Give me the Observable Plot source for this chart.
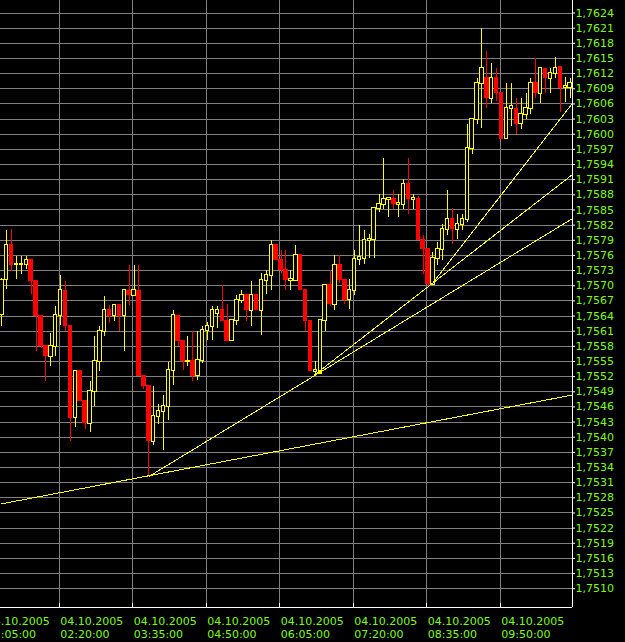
<!DOCTYPE html>
<html><head><meta charset="utf-8">
<script src="https://cdn.jsdelivr.net/npm/d3@7"></script>
<script src="https://cdn.jsdelivr.net/npm/@observablehq/plot@0.6"></script>
<style>html,body{margin:0;padding:0;background:#000;}</style>
</head><body><div id="chart"></div>
<script>
// 5-minute bars, 04.10.2005, first bar 01:20
const barStart = "2005-10-04T01:20:00Z";
const open = [
1.75643,1.75712,1.75780,1.75742,1.75742,1.75742,1.75750,1.75710,1.75641,1.75580,
1.75560,1.75580,1.75641,1.75690,1.75620,1.75439,1.75531,1.75471,1.75428,1.75491,
1.75550,1.75610,1.75651,1.75641,1.75661,1.75641,1.75690,1.75681,1.75690,1.75521,
1.75501,1.75392,1.75441,1.75451,1.75461,1.75532,1.75641,1.75591,1.75550,1.75550,
1.75522,1.75551,1.75611,1.75620,1.75645,1.75651,1.75631,1.75591,1.75631,1.75671,
1.75681,1.75651,1.75681,1.75651,1.75711,1.75721,1.75780,1.75750,1.75731,1.75711,
1.75711,1.75760,1.75691,1.75631,1.75530,1.75526,1.75631,1.75701,1.75663,1.75741,
1.75712,1.75672,1.75691,1.75751,1.75753,1.75790,1.75791,1.75852,1.75861,1.75871,
1.75871,1.75861,1.75861,1.75901,1.75871,1.75871,1.75790,1.75772,1.75703,1.75753,
1.75772,1.75812,1.75832,1.75812,1.75822,1.75832,1.75971,1.76030,1.76101,1.76111,
1.76071,1.76111,1.76081,1.75991,1.76050,1.76050,1.76021,1.76040,1.76050,1.76101,
1.76081,1.76130,1.76111,1.76121,1.76133,1.76092,1.76092];
const high = [
1.75715,1.75809,1.75811,1.75758,1.75758,1.75758,1.75750,1.75710,1.75641,1.75580,
1.75606,1.75659,1.75720,1.75709,1.75620,1.75531,1.75531,1.75471,1.75511,1.75600,
1.75620,1.75678,1.75661,1.75661,1.75661,1.75690,1.75740,1.75740,1.75740,1.75521,
1.75501,1.75500,1.75465,1.75482,1.75548,1.75651,1.75641,1.75591,1.75600,1.75610,
1.75610,1.75620,1.75628,1.75658,1.75658,1.75701,1.75662,1.75631,1.75680,1.75690,
1.75681,1.75709,1.75681,1.75724,1.75731,1.75790,1.75780,1.75769,1.75769,1.75731,
1.75780,1.75760,1.75691,1.75631,1.75550,1.75631,1.75701,1.75731,1.75759,1.75759,
1.75712,1.75713,1.75770,1.75820,1.75810,1.75802,1.75852,1.75881,1.75951,1.75875,
1.75889,1.75880,1.75910,1.75951,1.75880,1.75876,1.75800,1.75772,1.75765,1.75785,
1.75822,1.75889,1.75852,1.75842,1.75842,1.76020,1.76031,1.76110,1.76210,1.76164,
1.76140,1.76130,1.76081,1.76101,1.76100,1.76071,1.76071,1.76080,1.76111,1.76150,
1.76130,1.76130,1.76130,1.76152,1.76133,1.76113,1.76111];
const low = [
1.75620,1.75692,1.75729,1.75712,1.75722,1.75732,1.75682,1.75570,1.75575,1.75511,
1.75540,1.75560,1.75622,1.75610,1.75391,1.75420,1.75471,1.75415,1.75410,1.75461,
1.75531,1.75600,1.75625,1.75630,1.75610,1.75570,1.75660,1.75681,1.75521,1.75495,
1.75322,1.75383,1.75425,1.75373,1.75433,1.75502,1.75580,1.75532,1.75540,1.75511,
1.75512,1.75545,1.75591,1.75591,1.75615,1.75631,1.75591,1.75591,1.75622,1.75665,
1.75630,1.75620,1.75651,1.75601,1.75683,1.75691,1.75750,1.75724,1.75690,1.75691,
1.75711,1.75691,1.75610,1.75531,1.75524,1.75525,1.75610,1.75658,1.75651,1.75705,
1.75663,1.75653,1.75680,1.75740,1.75743,1.75753,1.75753,1.75845,1.75850,1.75835,
1.75850,1.75835,1.75850,1.75842,1.75850,1.75790,1.75723,1.75698,1.75700,1.75740,
1.75750,1.75800,1.75781,1.75792,1.75810,1.75825,1.75960,1.76020,1.76011,1.76051,
1.76060,1.76065,1.75991,1.75990,1.76015,1.76000,1.76010,1.76030,1.76040,1.76070,
1.76060,1.76080,1.76080,1.76110,1.76044,1.76063,1.76070];
const close = [
1.75710,1.75780,1.75742,1.75742,1.75743,1.75750,1.75710,1.75641,1.75580,1.75560,
1.75580,1.75641,1.75690,1.75620,1.75439,1.75531,1.75471,1.75428,1.75491,1.75550,
1.75610,1.75651,1.75641,1.75661,1.75641,1.75690,1.75681,1.75690,1.75521,1.75501,
1.75392,1.75441,1.75451,1.75461,1.75532,1.75641,1.75591,1.75550,1.75550,1.75522,
1.75551,1.75611,1.75620,1.75651,1.75651,1.75631,1.75591,1.75631,1.75671,1.75681,
1.75651,1.75681,1.75651,1.75711,1.75721,1.75780,1.75750,1.75731,1.75711,1.75712,
1.75760,1.75691,1.75631,1.75531,1.75532,1.75631,1.75701,1.75663,1.75741,1.75712,
1.75672,1.75691,1.75751,1.75755,1.75790,1.75791,1.75852,1.75861,1.75871,1.75872,
1.75861,1.75863,1.75901,1.75871,1.75872,1.75790,1.75772,1.75703,1.75753,1.75772,
1.75812,1.75832,1.75812,1.75822,1.75832,1.75971,1.76030,1.76101,1.76130,1.76071,
1.76111,1.76081,1.75991,1.76050,1.76055,1.76021,1.76040,1.76050,1.76101,1.76081,
1.76130,1.76111,1.76121,1.76130,1.76092,1.76094,1.76101];

// price axis ticks
const yTicks = [1.7510,1.7513,1.7516,1.7519,1.7522,1.7525,1.7528,1.7531,1.7534,1.7537,
1.7540,1.7543,1.7546,1.7549,1.7552,1.7555,1.7558,1.7561,1.7564,1.7567,1.7570,1.7573,
1.7576,1.7579,1.7582,1.7585,1.7588,1.7591,1.7594,1.7597,1.7600,1.7603,1.7606,1.7609,
1.7612,1.7615,1.7618,1.7621,1.7624];
// time axis ticks
const dateLabel = "04.10.2005";
const timeLabels = ["01:05:00","02:20:00","03:35:00","04:50:00","06:05:00","07:20:00","08:35:00","09:50:00"];

// trend lines (start time/price -> end time/price)
const trendStartTime = ["2005-10-04T01:20:06Z","2005-10-04T03:51:24Z","2005-10-04T06:39:48Z","2005-10-04T08:40:36Z"];
const trendStartPrice = [1.752677, 1.753220, 1.755222, 1.757038];
const trendEndTime = ["2005-10-04T11:03:47Z","2005-10-04T11:03:47Z","2005-10-04T11:03:47Z","2005-10-04T11:03:47Z"];
const trendEndPrice = [1.754836, 1.758330, 1.759202, 1.760614];

const xDomain = [new Date("2005-10-04T01:20:06Z"), new Date("2005-10-04T11:03:47Z")];
const yDomain = [1.750628, 1.762648];

const GREEN = "#7cfc00", YELLOW = "#ffff00", RED = "#ff0000", GRID = "#808080";
const FONT = "DejaVu Sans";

const t0 = +new Date(barStart);
const bars = open.map((o, i) => ({
  t: new Date(t0 + i * 300000), open: o, high: high[i], low: low[i], close: close[i],
  bull: close[i] >= o
}));
const bull = bars.filter(d => d.bull), bear = bars.filter(d => !d.bull);
const trends = trendStartTime.map((s, i) => ({
  t1: new Date(s), p1: trendStartPrice[i], t2: new Date(trendEndTime[i]), p2: trendEndPrice[i]
}));
const tickDates = timeLabels.map(s => new Date(`2005-10-04T${s}Z`));
const gridDates = tickDates.filter(d => d >= xDomain[0] && d <= xDomain[1]);
const fmt = d => d3.format(".4f")(d).replace(".", ",");
const halfBody = 135000;
const CE = "crispEdges";

const chart = Plot.plot({
  width: 625, height: 642,
  marginTop: 0, marginRight: 53, marginBottom: 35, marginLeft: 0,
  style: {background: "#000", color: GREEN, fontFamily: FONT, fontSize: "11px"},
  x: {type: "utc", domain: xDomain, axis: null},
  y: {domain: yDomain, axis: null},
  marks: [
    Plot.ruleY(yTicks, {stroke: GRID, shapeRendering: CE}),
    Plot.ruleX(gridDates, {stroke: GRID, shapeRendering: CE}),
    Plot.ruleX(bear, {x: "t", y1: "low", y2: "high", stroke: RED, dx: 1.4, shapeRendering: CE}),
    Plot.ruleX(bull, {x: "t", y1: "low", y2: "high", stroke: YELLOW, dx: 1.4, shapeRendering: CE}),
    Plot.rect(bear, {x1: d => new Date(+d.t - halfBody), x2: d => new Date(+d.t + halfBody),
      y1: "open", y2: "close", fill: RED, dx: 1.4, insetTop: -0.5, insetBottom: -0.5, shapeRendering: CE}),
    Plot.rect(bull, {x1: d => new Date(+d.t - halfBody), x2: d => new Date(+d.t + halfBody),
      y1: "open", y2: "close", fill: "#000", stroke: YELLOW, strokeWidth: 1, dx: 1.4,
      insetLeft: 0.5, insetRight: 0.5, insetTop: -0.5, insetBottom: -0.5, shapeRendering: CE}),
    Plot.link(trends, {x1: "t1", y1: "p1", x2: "t2", y2: "p2", stroke: YELLOW, strokeWidth: 1, shapeRendering: CE}),
    Plot.ruleX([xDomain[1]], {stroke: "#fff", shapeRendering: CE}),
    Plot.ruleY([yDomain[0]], {stroke: "#fff", shapeRendering: CE}),
    Plot.tickX(gridDates, {stroke: "#fff", insetTop: 603, shapeRendering: CE}),
    Plot.axisY(yTicks, {anchor: "right", tickSize: 2, tickFormat: () => "", color: "#fff"}),
    Plot.text(yTicks, {y: d => d, text: fmt, frameAnchor: "right", textAnchor: "start", dx: 3,
      fill: GREEN, fontSize: 11, fontFamily: FONT}),
    Plot.text(tickDates, {x: d => d, text: (d, i) => dateLabel + "\n" + timeLabels[i], frameAnchor: "bottom",
      lineAnchor: "top", textAnchor: "start", dx: 1, dy: 9, lineHeight: 1.15,
      fill: GREEN, fontSize: 11, fontFamily: FONT})
  ]
});
document.getElementById("chart").appendChild(chart);
</script></body></html>
